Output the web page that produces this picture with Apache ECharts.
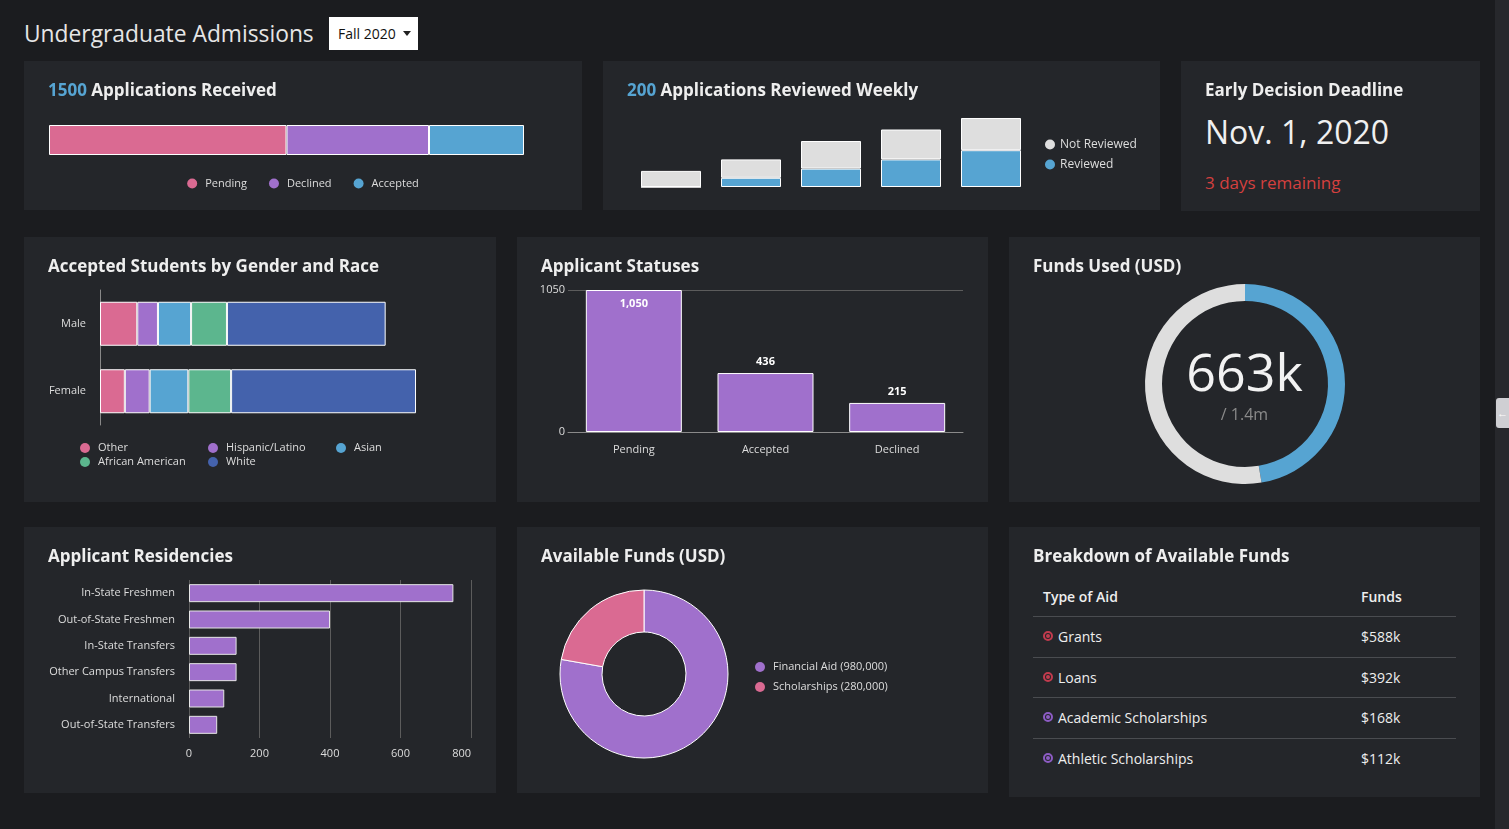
<!DOCTYPE html>
<html lang="en">

<head>
    <meta charset="UTF-8">
    <title>Undergraduate Admissions</title>
    <script src="https://cdn.jsdelivr.net/npm/echarts/dist/echarts.min.js"></script>
    <style>
        body { margin: 0; width: 1509px; height: 829px; overflow: hidden; position: relative; background: #1b1c1f; font-family: 'Open Sans', sans-serif; color: #e6e6e6; }
        .panel { position: absolute; background: #24262a; }
        .panel .title { position: absolute; left: 24px; top: 17px; line-height: 24px; font-size: 17px; font-weight: bold; color: #eeeeee; z-index: 2; white-space: nowrap; }
        .panel .chart { position: absolute; left: 0; top: 0; width: 100%; height: 100%; }
        .blue { color: #56a4d2; }
        #head { position: absolute; left: 24px; top: 18px; line-height: 32px; font-size: 22.8px; color: #e6e6e6; }
        #term { position: absolute; left: 329px; top: 17px; width: 89px; height: 33px; background: #ffffff; color: #111; font-size: 14px; line-height: 33px; box-sizing: border-box; padding-left: 9px; }
        #term:after { content: ''; position: absolute; left: 74px; top: 14px; border-left: 4px solid transparent; border-right: 4px solid transparent; border-top: 5px solid #222; }
        #strip { position: absolute; left: 1495px; top: 0; width: 14px; height: 829px; background: #27282c; }
        #tab { position: absolute; left: 1496px; top: 398px; width: 13px; height: 30px; background: #cfcfd3; border-radius: 3px 0 0 3px; color: #fff; font-size: 11px; line-height: 30px; text-align: center; }
        table { position: absolute; left: 24px; top: 50px; width: 423px; border-collapse: collapse; font-size: 14px; }
        th { text-align: left; font-weight: 600; height: 39px; padding: 0 0 0 10px; border-bottom: 1px solid #4a4c50; color: #eeeeee; }
        td { height: 39.5px; padding: 0 0 0 10px; border-bottom: 1px solid #4a4c50; font-size: 14px; color: #eeeeee; }
        tr:last-child td { border-bottom: none; }
        .dot { display: inline-block; width: 6px; height: 6px; border-radius: 50%; border: 2px solid; margin-right: 5px; position: relative; top: -1px; box-sizing: content-box; }
        .dot:after { content: ''; position: absolute; left: 1px; top: 1px; width: 4px; height: 4px; border-radius: 50%; background: currentColor; }
    </style>
</head>

<body>
    <div id="head">Undergraduate Admissions</div>
    <div id="term">Fall 2020</div>
    <div id="strip"></div>
    <div id="tab">&#8592;</div>

    <div class="panel" style="left:24px;top:61px;width:558px;height:149px;">
        <div class="title"><span class="blue">1500</span> Applications Received</div>
        <div class="chart" id="received"></div>
    </div>
    <div class="panel" style="left:603px;top:61px;width:557px;height:149px;">
        <div class="title"><span class="blue">200</span> Applications Reviewed Weekly</div>
        <div class="chart" id="weekly"></div>
    </div>
    <div class="panel" style="left:1181px;top:61px;width:299px;height:150px;">
        <div class="title">Early Decision Deadline</div>
        <div style="position:absolute;left:24px;top:48px;font-size:32px;line-height:46px;color:#f0f0f0;">Nov. 1, 2020</div>
        <div style="position:absolute;left:24px;top:110px;font-size:17px;line-height:24px;color:#d4403f;">3 days remaining</div>
    </div>

    <div class="panel" style="left:24px;top:237px;width:472px;height:265px;">
        <div class="title">Accepted Students by Gender and Race</div>
        <div class="chart" id="gender"></div>
    </div>
    <div class="panel" style="left:517px;top:237px;width:471px;height:265px;">
        <div class="title">Applicant Statuses</div>
        <div class="chart" id="statuses"></div>
    </div>
    <div class="panel" style="left:1009px;top:237px;width:471px;height:265px;">
        <div class="title">Funds Used (USD)</div>
        <div class="chart" id="used"></div>
    </div>

    <div class="panel" style="left:24px;top:527px;width:472px;height:266px;">
        <div class="title">Applicant Residencies</div>
        <div class="chart" id="residency"></div>
    </div>
    <div class="panel" style="left:517px;top:527px;width:471px;height:266px;">
        <div class="title">Available Funds (USD)</div>
        <div class="chart" id="funds"></div>
    </div>
    <div class="panel" style="left:1009px;top:527px;width:471px;height:270px;">
        <div class="title">Breakdown of Available Funds</div>
        <table id="aid"></table>
    </div>

    <script>
        var statusNames = ['Pending', 'Declined', 'Accepted'];
        var statusCounts = [750, 450, 300];

        var weeks = ['Week 1', 'Week 2', 'Week 3', 'Week 4', 'Week 5'];
        var reviewed = [0, 200, 400, 600, 800];
        var notReviewed = [350, 400, 600, 650, 700];

        var genders = ['Male', 'Female'];
        var races = ['Other', 'Hispanic/Latino', 'Asian', 'African American', 'White'];
        var raceMale = [27, 15, 24, 26, 115];
        var raceFemale = [18, 18, 28, 31, 134];

        var statusCats = ['Pending', 'Accepted', 'Declined'];
        var statusTotals = [1050, 436, 215];

        var fundsUsed = 663;   // thousands
        var fundsLeft = 737;   // thousands

        var residencies = ['In-State Freshmen', 'Out-of-State Freshmen', 'In-State Transfers', 'Other Campus Transfers', 'International', 'Out-of-State Transfers'];
        var residencyCounts = [750, 400, 135, 135, 100, 80];

        var fundNames = ['Financial Aid', 'Scholarships'];
        var fundValues = [980000, 280000];

        var aidTypes = ['Grants', 'Loans', 'Academic Scholarships', 'Athletic Scholarships'];
        var aidFunds = ['$588k', '$392k', '$168k', '$112k'];

        var pink = '#da6a92', purple = '#a070cc', blue = '#56a4d2', green = '#5cb68e', navy = '#4462ac', grey = '#dedede';
        var legendText = { color: '#dddddd', fontSize: 11, fontFamily: 'Open Sans', padding: [0, 0, 0, 3] };

        // 1500 applications received
        var received = echarts.init(document.getElementById('received'));
        var recColors = [pink, purple, blue];
        received.setOption({
            animation: false,
            textStyle: { fontFamily: 'Open Sans' },
            legend: { top: 112, left: 'center', icon: 'circle', itemWidth: 10, itemHeight: 10, itemGap: 22, itemStyle: { borderWidth: 0 }, textStyle: legendText, data: statusNames },
            grid: { left: 25, top: 64, width: 475, height: 30, outerBoundsMode: 'none' },
            xAxis: { type: 'value', min: 0, max: 1500, show: false },
            yAxis: { type: 'category', data: ['Applications'], show: false },
            series: statusNames.map(function (n, i) {
                return { name: n, type: 'bar', stack: 'all', barWidth: 30, data: [statusCounts[i]], itemStyle: { color: recColors[i], borderColor: '#ffffff', borderWidth: 1 } };
            })
        });

        // reviewed weekly
        var weekly = echarts.init(document.getElementById('weekly'));
        weekly.setOption({
            animation: false,
            textStyle: { fontFamily: 'Open Sans' },
            legend: { orient: 'vertical', left: 437, top: 72, icon: 'circle', itemWidth: 10, itemHeight: 10, itemGap: 7, itemStyle: { borderWidth: 0 }, textStyle: { color: '#dddddd', fontSize: 12, lineHeight: 13, fontFamily: 'Open Sans' }, data: ['Not Reviewed', 'Reviewed'] },
            grid: { left: 28, top: 57, width: 400, height: 69, outerBoundsMode: 'none' },
            xAxis: { type: 'category', data: weeks, show: false },
            yAxis: { type: 'value', min: 0, max: 1500, show: false },
            series: [
                { name: 'Reviewed', type: 'bar', stack: 'w', barWidth: 60, data: reviewed, itemStyle: { color: blue, borderColor: '#ffffff', borderWidth: 1 } },
                { name: 'Not Reviewed', type: 'bar', stack: 'w', barWidth: 60, data: notReviewed, itemStyle: { color: grey, borderColor: '#ffffff', borderWidth: 1 } }
            ]
        });

        // gender and race
        var gender = echarts.init(document.getElementById('gender'));
        var raceColors = [pink, purple, blue, green, navy];
        gender.setOption({
            animation: false,
            textStyle: { fontFamily: 'Open Sans' },
            legend: { left: 51, top: 199, width: 400, icon: 'circle', itemWidth: 10, itemHeight: 10, itemGap: 0, itemStyle: { borderWidth: 0 }, textStyle: { color: '#dddddd', fontSize: 11, lineHeight: 14, width: 110, padding: [0, 0, 0, 3], fontFamily: 'Open Sans' }, data: races },
            grid: { left: 76, top: 53, width: 345, height: 135, outerBoundsMode: 'none' },
            xAxis: { type: 'value', min: 0, max: 250, show: false },
            yAxis: { type: 'category', data: genders, inverse: true, axisLine: { show: true, lineStyle: { color: '#888888' } }, axisTick: { show: false }, axisLabel: { color: '#dddddd', fontSize: 11, margin: 14 } },
            series: races.map(function (r, i) {
                return { name: r, type: 'bar', stack: 'g', barWidth: 44, data: [raceMale[i], raceFemale[i]], itemStyle: { color: raceColors[i], borderColor: '#ffffff', borderWidth: 1 } };
            })
        });

        // applicant statuses
        var statuses = echarts.init(document.getElementById('statuses'));
        statuses.setOption({
            animation: false,
            textStyle: { fontFamily: 'Open Sans' },
            grid: { left: 51, top: 53, width: 395, height: 142, outerBoundsMode: 'none' },
            xAxis: { type: 'category', data: statusCats, axisLine: { lineStyle: { color: '#8a8a8a' } }, axisTick: { show: false }, axisLabel: { color: '#dddddd', fontSize: 11, margin: 12 } },
            yAxis: { type: 'value', min: 0, max: 1050, interval: 1050, axisLabel: { color: '#dddddd', fontSize: 11, margin: 3, formatter: function (v) { return String(v); } }, splitLine: { lineStyle: { color: '#5c5c5c' } } },
            series: [{
                type: 'bar', barWidth: 96,
                data: statusTotals.map(function (v, i) { return i === 0 ? { value: v, label: { position: 'insideTop', distance: 8 } } : v; }),
                itemStyle: { color: purple, borderColor: '#ffffff', borderWidth: 1 },
                label: { show: true, position: 'top', distance: 6, color: '#ffffff', fontSize: 11, fontWeight: 'bold', formatter: function (p) { return p.value.toLocaleString('en-US'); } }
            }]
        });

        // funds used gauge
        var used = echarts.init(document.getElementById('used'));
        used.setOption({
            animation: false,
            textStyle: { fontFamily: 'Open Sans' },
            graphic: [
                { type: 'text', left: 'center', top: 113, style: { text: fundsUsed + 'k', fill: '#f2f2f2', font: '52px "Open Sans"' } },
                { type: 'text', left: 'center', top: 170, style: { text: '/ ' + ((fundsUsed + fundsLeft) / 1000) + 'm', fill: '#8a8a8a', font: '16px "Open Sans"' } }
            ],
            series: [{
                type: 'pie', center: [236, 147], radius: [83, 100], startAngle: 90, silent: true, label: { show: false },
                data: [{ name: 'Used', value: fundsUsed, itemStyle: { color: blue } }, { name: 'Remaining', value: fundsLeft, itemStyle: { color: grey } }]
            }]
        });

        // residencies
        var residency = echarts.init(document.getElementById('residency'));
        residency.setOption({
            animation: false,
            textStyle: { fontFamily: 'Open Sans' },
            grid: { left: 165, top: 53, width: 282, height: 158, outerBoundsMode: 'none' },
            xAxis: { type: 'value', min: 0, max: 800, interval: 200, axisLine: { show: false }, axisTick: { show: false }, axisLabel: { color: '#dddddd', fontSize: 11, margin: 10, alignMaxLabel: 'right' }, splitLine: { lineStyle: { color: '#5c5c5c' } } },
            yAxis: { type: 'category', data: residencies, inverse: true, axisLine: { show: false }, axisTick: { show: false }, axisLabel: { color: '#dddddd', fontSize: 11, margin: 14 } },
            series: [{ type: 'bar', barWidth: 18, data: residencyCounts, itemStyle: { color: purple, borderColor: '#e6e6e6', borderWidth: 1 } }]
        });

        // available funds donut
        var funds = echarts.init(document.getElementById('funds'));
        var fundColors = [purple, pink];
        funds.setOption({
            animation: false,
            textStyle: { fontFamily: 'Open Sans' },
            legend: {
                orient: 'vertical', left: 233, top: 129, icon: 'circle', itemWidth: 10, itemHeight: 10, itemGap: 8, itemStyle: { borderWidth: 0 },
                textStyle: { color: '#dddddd', fontSize: 11, lineHeight: 12, padding: [0, 0, 0, 3], fontFamily: 'Open Sans' },
                formatter: function (name) { return name + ' (' + fundValues[fundNames.indexOf(name)].toLocaleString('en-US') + ')'; }
            },
            series: [{
                type: 'pie', center: [127, 147], radius: [42, 84], startAngle: 90, label: { show: false },
                itemStyle: { borderColor: '#ffffff', borderWidth: 1 },
                data: fundNames.map(function (n, i) { return { name: n, value: fundValues[i], itemStyle: { color: fundColors[i] } }; })
            }]
        });

        // breakdown table
        var aidColors = ['#c23b4e', '#c23b4e', '#8d5cc4', '#8d5cc4'];
        var rows = '<tr><th>Type of Aid</th><th style="width:95px;">Funds</th></tr>';
        for (var i = 0; i < aidTypes.length; i++) {
            rows += '<tr><td><span class="dot" style="color:' + aidColors[i] + '"></span>' + aidTypes[i] + '</td><td>' + aidFunds[i] + '</td></tr>';
        }
        document.getElementById('aid').innerHTML = rows;
    </script>
</body>

</html>
